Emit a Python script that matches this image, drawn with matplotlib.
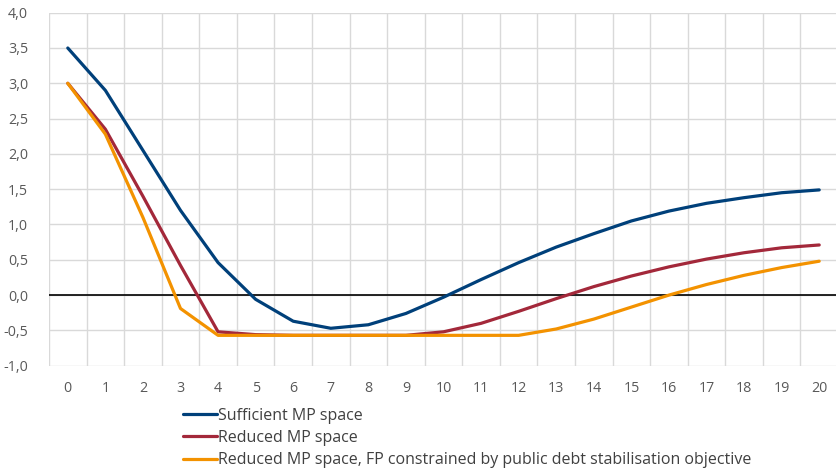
import matplotlib.pyplot as plt
import numpy as np

plt.rcParams['font.family'] = ['Open Sans', 'DejaVu Sans']

periods = list(range(21))
sufficient = [3.5, 2.9, 2.05, 1.2, 0.46, -0.06, -0.37, -0.47, -0.42, -0.26, -0.03,
              0.22, 0.46, 0.68, 0.87, 1.05, 1.19, 1.30, 1.38, 1.45, 1.49]
reduced = [3.0, 2.35, 1.4, 0.42, -0.52, -0.56, -0.57, -0.57, -0.57, -0.57, -0.52,
           -0.40, -0.23, -0.05, 0.12, 0.27, 0.40, 0.51, 0.60, 0.67, 0.71]
constrained = [3.0, 2.28, 1.1, -0.19, -0.57, -0.57, -0.57, -0.57, -0.57, -0.57, -0.57,
               -0.57, -0.57, -0.48, -0.34, -0.17, 0.0, 0.15, 0.28, 0.39, 0.48]
labels = ['Sufficient MP space', 'Reduced MP space',
          'Reduced MP space, FP constrained by public debt stabilisation objective']
colors = ['#00407a', '#a3283a', '#f39200']
yticks = np.arange(-1.0, 4.01, 0.5)

fig = plt.figure(figsize=(8.36, 4.68), dpi=100)
ax = fig.add_axes([49 / 836, (468 - 365.7) / 468, 789 / 836, 353 / 468])

for series, lab, col in zip([sufficient, reduced, constrained], labels, colors):
    ax.plot(periods, series, color=col, lw=2.3, label=lab, solid_capstyle='round', zorder=3)

ax.axhline(0, color='black', lw=1.2, zorder=2)
ax.set_xlim(-0.5, 20.5)
ax.set_ylim(-1.0, 4.0)
ax.set_yticks(yticks)
ax.set_yticklabels([f'{v:.1f}'.replace('.', ',') for v in yticks])
ax.set_xticks(periods)
ax.set_xticks(np.arange(-0.5, 21, 1), minor=True)
ax.grid(which='minor', axis='x', color='#d9d9d9', lw=1)
ax.grid(which='major', axis='y', color='#d9d9d9', lw=1)
ax.tick_params(which='both', length=0, labelsize=10.3, labelcolor='#595959')
ax.tick_params(axis='x', pad=11)
ax.tick_params(axis='y', pad=15)
for s in ax.spines.values():
    s.set_visible(False)

leg = fig.legend(loc='upper left', bbox_to_anchor=(183 / 836, 1 - 408 / 468),
                 frameon=False, fontsize=11.55, handlelength=2.1, handletextpad=0.08,
                 labelspacing=0.38, borderaxespad=0, borderpad=0)
for t in leg.get_texts():
    t.set_color('#404040')

fig.savefig('out.png', dpi=100)
